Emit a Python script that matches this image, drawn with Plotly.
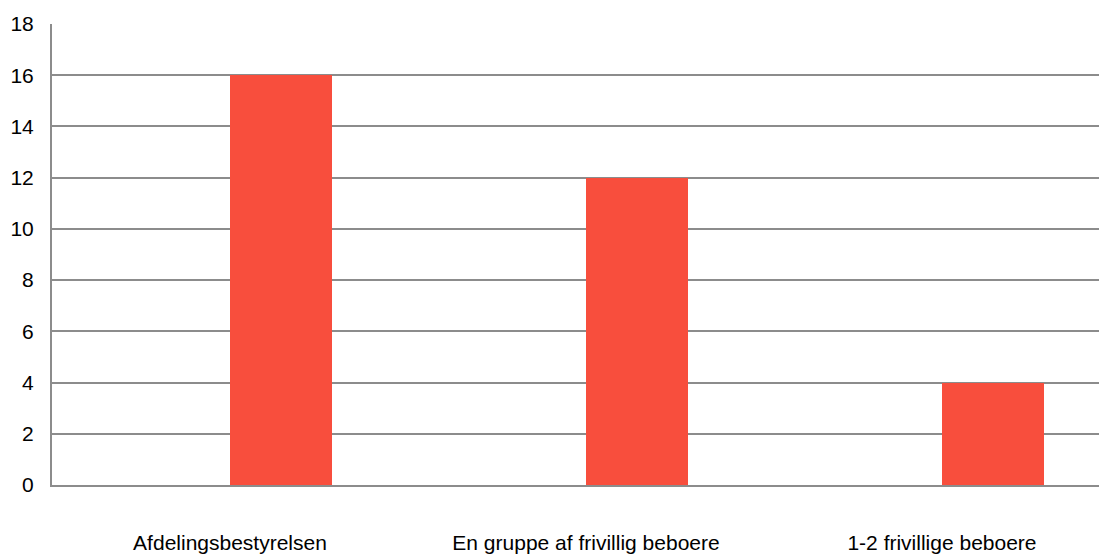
import plotly.graph_objects as go

categories = ["Afdelingsbestyrelsen", "En gruppe af frivillig beboere", "1-2 frivillige beboere"]
values = [16, 12, 4]
y_ticks = [0, 2, 4, 6, 8, 10, 12, 14, 16, 18]

BAR_COLOR = "#F84E3D"
GRID = "#8c8c8c"
FONT = "Liberation Sans, Arial, sans-serif"

fig = go.Figure()
fig.add_trace(go.Bar(
    x=categories,
    y=values,
    marker=dict(color=BAR_COLOR, line=dict(width=0)),
    offset=0,
    width=0.2865,
    showlegend=False,
))

fig.update_layout(
    width=1099,
    height=546,
    margin=dict(l=44, r=0, t=16, b=65, pad=0),
    paper_bgcolor="white",
    plot_bgcolor="white",
    font=dict(family=FONT, size=21, color="#000000"),
    bargap=0,
)
fig.update_xaxes(
    type="category",
    range=[-0.5, 2.4635],
    showgrid=False,
    showline=True,
    linecolor=GRID,
    linewidth=2,
    ticks="",
    ticklabelstandoff=38,
    tickfont=dict(family=FONT, size=21, color="#000000"),
    fixedrange=True,
)
fig.update_yaxes(
    range=[0, 18],
    tickvals=y_ticks,
    ticktext=[str(v) for v in y_ticks],
    showgrid=True,
    gridcolor=GRID,
    gridwidth=2,
    zeroline=False,
    showline=True,
    linecolor=GRID,
    linewidth=2,
    ticks="",
    ticklabelstandoff=12,
    tickfont=dict(family=FONT, size=21, color="#000000"),
    fixedrange=True,
)

fig.write_html("out.html")
